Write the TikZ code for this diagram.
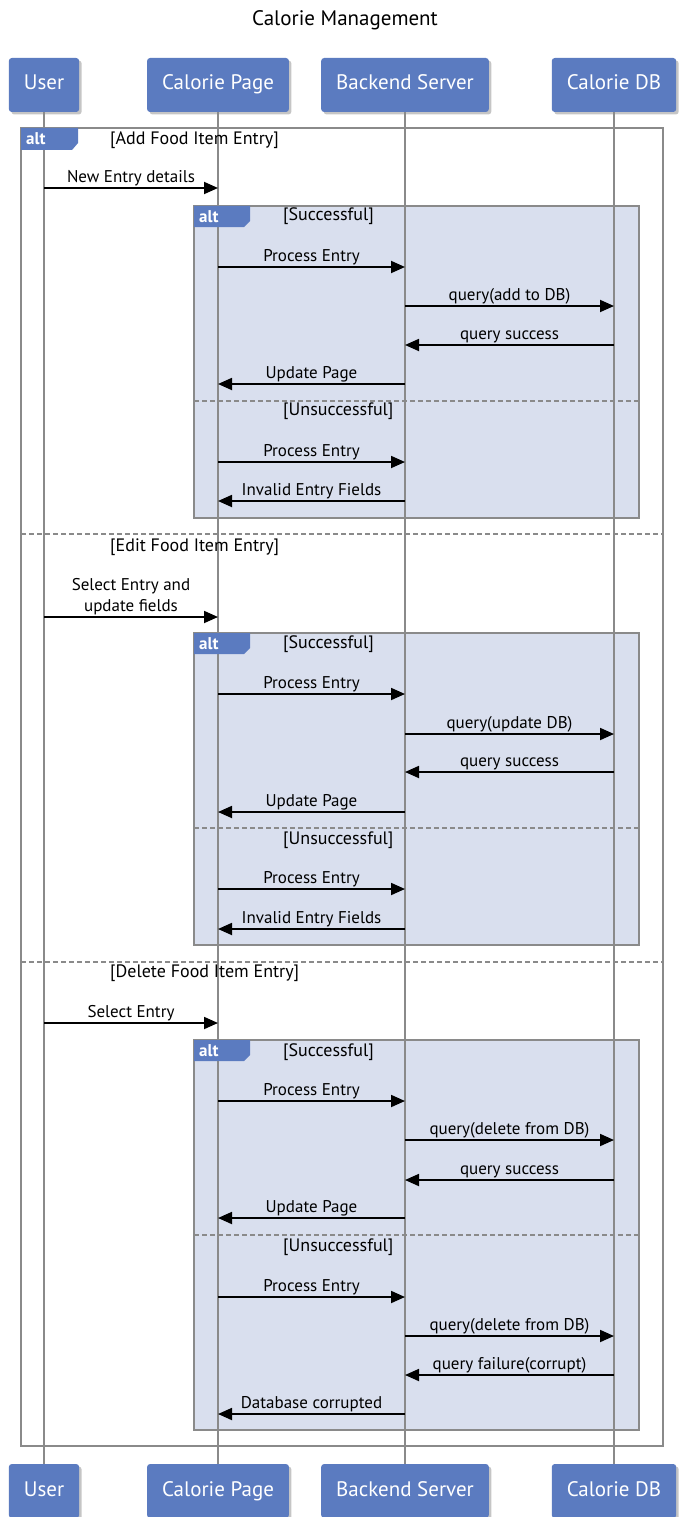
\documentclass[tikz,border=0pt]{standalone}
\usepackage{fontspec}
\setmainfont{PT Sans}
\usepackage{tikz}
\usetikzlibrary{arrows.meta,shadows}
\definecolor{boxblue}{HTML}{5B7BC0}
\definecolor{altfill}{HTML}{D9DFEE}
\definecolor{framegray}{HTML}{8A8A8A}
\tikzstyle{actor} = [fill=boxblue, rounded corners=3pt, text=white, font=\fontsize{21}{24}\selectfont, minimum height=54pt, text height=15pt, text depth=5pt, inner xsep=15pt, drop shadow={shadow xshift=2.5pt, shadow yshift=-2.5pt, fill=black!45}]
\tikzstyle{msg} = [draw, line width=1.8pt, -{Triangle[length=14pt,width=12pt]}]
\tikzstyle{lifeline} = [draw=framegray, line width=1.8pt]
\tikzstyle{frame} = [draw=framegray, line width=1.8pt]
\tikzstyle{altbox} = [frame, fill=altfill]
\tikzstyle{sep} = [draw=framegray, line width=1.5pt, dash pattern=on 5pt off 3pt]
\tikzstyle{lbl} = [font=\fontsize{17}{21}\selectfont, inner sep=0pt, above=1pt, align=center]
\tikzstyle{guard} = [font=\fontsize{18}{20}\selectfont, inner sep=0pt, anchor=west]
\tikzstyle{tab} = [fill=boxblue]
\tikzstyle{tabtext} = [text=white, font=\bfseries\fontsize{17}{18}\selectfont, inner sep=0pt, anchor=west]

\begin{document}
\begin{tikzpicture}[x=1pt, y=-1pt]
    \useasboundingbox (0,0) rectangle (680,1517);
    \node [font=\fontsize{21}{24}\selectfont] (title) at (345,20) {Calorie Management};
    % frames
    \draw [frame] (21,128) rectangle (663,1446);
    \draw [altbox] (194,206) rectangle (639,518);
    \draw [altbox] (194,633) rectangle (639,945);
    \draw [altbox] (194,1040) rectangle (639,1430);
    \path [sep] (21,534) -- (663,534);
    \path [sep] (21,962) -- (663,962);
    \path [sep] (194,401) -- (639,401);
    \path [sep] (194,828) -- (639,828);
    \path [sep] (194,1235) -- (639,1235);
    % participants
    \node [actor] (user) at (44,85) {User};
    \node [actor] (page) at (218,85) {Calorie Page};
    \node [actor] (server) at (405,85) {Backend Server};
    \node [actor] (db) at (614,85) {Calorie DB};
    \node [actor] (userFoot) at (44,1491) {User};
    \node [actor] (pageFoot) at (218,1491) {Calorie Page};
    \node [actor] (serverFoot) at (405,1491) {Backend Server};
    \node [actor] (dbFoot) at (614,1491) {Calorie DB};
    \path [lifeline] (user) -- (userFoot);
    \path [lifeline] (page) -- (pageFoot);
    \path [lifeline] (server) -- (serverFoot);
    \path [lifeline] (db) -- (dbFoot);
    % alt tabs
    \fill [tab] (21,128) -- (78,128) -- (78,143) -- (72,150) -- (21,150) -- cycle;
    \node [tabtext] (tabA) at (26,139) {alt};
    \foreach \ty/\tn in {206/tabB, 633/tabC, 1040/tabD} {
        \fill [tab] (194,\ty) -- (250,\ty) -- (250,\ty+15) -- (244,\ty+21) -- (194,\ty+21) -- cycle;
        \node [tabtext] (\tn) at (199,\ty+10.5) {alt};
    }
    % guards
    \node [guard] (gAdd) at (110,140) {[Add Food Item Entry]};
    \node [guard] (gEdit) at (110,547) {[Edit Food Item Entry]};
    \node [guard] (gDel) at (110,973) {[Delete Food Item Entry]};
    \node [guard] (gOk1) at (283,216) {[Successful]};
    \node [guard] (gNo1) at (283,411) {[Unsuccessful]};
    \node [guard] (gOk2) at (283,644) {[Successful]};
    \node [guard] (gNo2) at (283,840) {[Unsuccessful]};
    \node [guard] (gOk3) at (283,1052) {[Successful]};
    \node [guard] (gNo3) at (283,1247) {[Unsuccessful]};
    % add entry
    \path [msg] (user |- 0,188) -- node [lbl] (m1) {New Entry details} (page |- 0,188);
    \path [msg] (page |- 0,267) -- node [lbl] (m2) {Process Entry} (server |- 0,267);
    \path [msg] (server |- 0,306) -- node [lbl] (m3) {query(add to DB)} (db |- 0,306);
    \path [msg] (db |- 0,345) -- node [lbl] (m4) {query success} (server |- 0,345);
    \path [msg] (server |- 0,384) -- node [lbl] (m5) {Update Page} (page |- 0,384);
    \path [msg] (page |- 0,462) -- node [lbl] (m6) {Process Entry} (server |- 0,462);
    \path [msg] (server |- 0,501) -- node [lbl] (m7) {Invalid Entry Fields} (page |- 0,501);
    % edit entry
    \path [msg] (user |- 0,617) -- node [lbl] (m8) {Select Entry and\\update fields} (page |- 0,617);
    \path [msg] (page |- 0,694) -- node [lbl] (m9) {Process Entry} (server |- 0,694);
    \path [msg] (server |- 0,734) -- node [lbl] (m10) {query(update DB)} (db |- 0,734);
    \path [msg] (db |- 0,772) -- node [lbl] (m11) {query success} (server |- 0,772);
    \path [msg] (server |- 0,812) -- node [lbl] (m12) {Update Page} (page |- 0,812);
    \path [msg] (page |- 0,889) -- node [lbl] (m13) {Process Entry} (server |- 0,889);
    \path [msg] (server |- 0,929) -- node [lbl] (m14) {Invalid Entry Fields} (page |- 0,929);
    % delete entry
    \path [msg] (user |- 0,1023) -- node [lbl] (m15) {Select Entry} (page |- 0,1023);
    \path [msg] (page |- 0,1101) -- node [lbl] (m16) {Process Entry} (server |- 0,1101);
    \path [msg] (server |- 0,1140) -- node [lbl] (m17) {query(delete from DB)} (db |- 0,1140);
    \path [msg] (db |- 0,1180) -- node [lbl] (m18) {query success} (server |- 0,1180);
    \path [msg] (server |- 0,1218) -- node [lbl] (m19) {Update Page} (page |- 0,1218);
    \path [msg] (page |- 0,1297) -- node [lbl] (m20) {Process Entry} (server |- 0,1297);
    \path [msg] (server |- 0,1336) -- node [lbl] (m21) {query(delete from DB)} (db |- 0,1336);
    \path [msg] (db |- 0,1375) -- node [lbl] (m22) {query failure(corrupt)} (server |- 0,1375);
    \path [msg] (server |- 0,1414) -- node [lbl] (m23) {Database corrupted} (page |- 0,1414);
\end{tikzpicture}
\end{document}
